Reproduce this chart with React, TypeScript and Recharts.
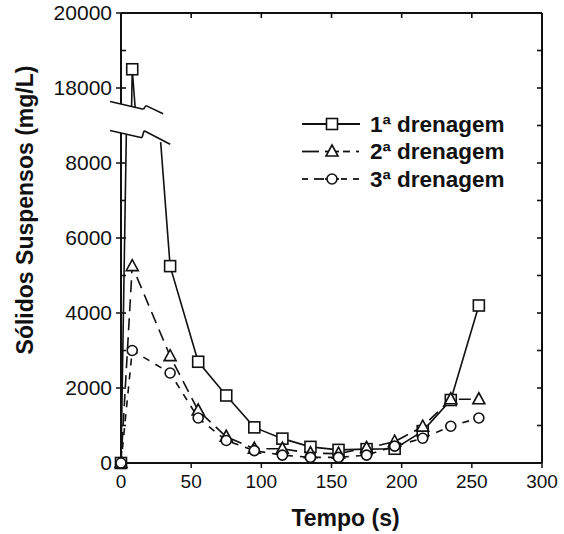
import React from 'react';
import { LineChart, Line, XAxis, YAxis, ReferenceLine, Legend } from 'recharts';

// ---- data ----
const times = [0, 8, 35, 55, 75, 95, 115, 135, 155, 175, 195, 215, 235, 255];
const drenagem1 = [0, 18500, 5250, 2700, 1800, 950, 650, 430, 350, 370, 380, 850, 1680, 4200];
const drenagem2 = [0, 5250, 2850, 1400, 700, 380, 380, 260, 250, 400, 570, 970, 1700, 1700];
const drenagem3 = [0, 3000, 2400, 1200, 600, 330, 210, 150, 150, 210, 450, 660, 980, 1200];
const seriesNames = ['1ª drenagem', '2ª drenagem', '3ª drenagem'];
const xTicks = [0, 50, 100, 150, 200, 250, 300];
const yTickLabels = [0, 2000, 4000, 6000, 8000, 18000, 20000];
const yMinorTicks = [1000, 2000, 3000, 4000, 5000, 6000, 7000, 8000, 18000, 19000];
const rightTicks = [1000, 2000, 3000, 4000, 5000, 6000, 7000, 8000, 9000, 10000, 11000];

// ---- broken axis: values above the break are shifted down ----
const SHIFT = 10000 - 2000; // 18000 is drawn where 10000 would be
const SPLIT = 13000;
const LOW_EDGE = 8800; // top of lower part (at the axis)
const HIGH_EDGE = 9573; // bottom of upper part, shifted units (at the axis)
const SLASH_SLOPE = 8.6; // slant of break marks, y-units per x-unit
const Y_MAX = 20000 - SHIFT;
const X_MAX = 300;

// chart geometry
const W = 564, H = 534;
const M = { top: 13, right: 22, bottom: 0, left: 0 };
const Y_AXIS_W = 121, X_AXIS_H = 71;
const PLOT_W = W - M.left - M.right - Y_AXIS_W;
const PLOT_H = H - M.top - M.bottom - X_AXIS_H;
const TICK_PX = 5;
const TICK_X = (TICK_PX * X_MAX) / PLOT_W; // inward tick length in x units
const TICK_Y = (TICK_PX * Y_MAX) / PLOT_H; // inward tick length in y units

const toT = (v: number) => (v > SPLIT ? v - SHIFT : v);
const fromT = (t: number) => (t > LOW_EDGE ? t + SHIFT : t);
const lowB = (x: number) => LOW_EDGE - SLASH_SLOPE * x;
const upB = (x: number) => HIGH_EDGE - SLASH_SLOPE * x;

type Pt = { x: number; y: number | null; real: boolean };

function buildSeries(xs: number[], vs: number[]): Pt[] {
  const out: Pt[] = [];
  for (let i = 0; i < xs.length; i++) {
    if (i > 0) {
      const x0 = xs[i - 1], v0 = vs[i - 1], x1 = xs[i], v1 = vs[i];
      const up0 = v0 > SPLIT, up1 = v1 > SPLIT;
      if (up0 !== up1) {
        const b = (v1 - v0) / (x1 - x0);
        const a = v0 - b * x0;
        const xl = (LOW_EDGE - a) / (b + SLASH_SLOPE);
        const xu = (HIGH_EDGE + SHIFT - a) / (b + SLASH_SLOPE);
        const pl: Pt = { x: xl, y: a + b * xl, real: false };
        const pu: Pt = { x: xu, y: a + b * xu - SHIFT, real: false };
        const first = up0 ? pu : pl;
        const second = up0 ? pl : pu;
        out.push(first, { x: (xl + xu) / 2, y: null, real: false }, second);
      }
    }
    out.push({ x: xs[i], y: toT(vs[i]), real: true });
  }
  return out;
}

const data1 = buildSeries(times, drenagem1);
const data2 = buildSeries(times, drenagem2);
const data3 = buildSeries(times, drenagem3);

const INK = '#111';
const FONT = '"Liberation Sans", Arial, Helvetica, sans-serif';

const Marker = ({ kind, cx, cy }: { kind: number; cx: number; cy: number }) => {
  if (kind === 0)
    return <rect x={cx - 5.5} y={cy - 5.5} width={11} height={11} fill="#fff" stroke={INK} strokeWidth={1.6} />;
  if (kind === 1)
    return (
      <polygon
        points={`${cx},${cy - 6.5} ${cx - 6},${cy + 4.5} ${cx + 6},${cy + 4.5}`}
        fill="#fff"
        stroke={INK}
        strokeWidth={1.6}
      />
    );
  return <circle cx={cx} cy={cy} r={5} fill="#fff" stroke={INK} strokeWidth={1.6} />;
};

const makeDot = (kind: number) => (props: any) => {
  const { cx, cy, payload, index } = props;
  if (!payload || !payload.real || cx == null || cy == null) return <g key={`e${kind}-${index}`} />;
  return (
    <g key={`d${kind}-${index}`}>
      <Marker kind={kind} cx={cx} cy={cy} />
    </g>
  );
};

const LegendContent = () => {
  const rows = [
    { segs: [[4, 62]], kind: 0 },
    { segs: [[4, 21], [27, 41], [45, 52], [58, 61]], kind: 1 },
    { segs: [[4, 10], [16, 26], [27, 41], [43, 49], [55, 61]], kind: 2 },
  ];
  return (
    <svg width={260} height={90} style={{ display: 'block' }}>
      {rows.map((r, i) => {
        const cy = 16 + i * 27.5;
        return (
          <g key={i}>
            {r.segs.map((s, j) => (
              <line key={j} x1={s[0]} x2={s[1]} y1={cy} y2={cy} stroke={INK} strokeWidth={1.8} />
            ))}
            <Marker kind={r.kind} cx={34} cy={cy} />
            <text x={72} y={cy} dominantBaseline="central" fontFamily={FONT} fontWeight="bold" fontSize={22.5} fill={INK}>
              {seriesNames[i]}
            </text>
          </g>
        );
      })}
    </svg>
  );
};

const YTitle = (props: any) => {
  const vb = props.viewBox || { x: 0, y: 13, width: 121, height: 450 };
  const cx = vb.x + 25;
  const cy = vb.y + vb.height / 2 - 28;
  return (
    <text
      x={cx}
      y={cy}
      transform={`rotate(-90 ${cx} ${cy})`}
      textAnchor="middle"
      dominantBaseline="central"
      fontFamily={FONT}
      fontWeight="bold"
      fontSize={23}
      fill={INK}
    >
      Sólidos Suspensos (mg/L)
    </text>
  );
};

const XTitle = (props: any) => {
  const vb = props.viewBox || { x: 121, y: 463, width: 421, height: 71 };
  return (
    <text
      x={vb.x + vb.width / 2 + 14}
      y={vb.y + 55}
      textAnchor="middle"
      dominantBaseline="central"
      fontFamily={FONT}
      fontWeight="bold"
      fontSize={23}
      fill={INK}
    >
      Tempo (s)
    </text>
  );
};

const slashUpper = [
  { x: -7.8, y: upB(-7.8) },
  { x: 16, y: upB(16) },
  { x: 17.8, y: upB(17.8) + 110 },
  { x: 30, y: upB(30) },
];
const slashLower = [
  { x: -7.8, y: lowB(-7.8) },
  { x: 14.9, y: lowB(14.9) },
  { x: 16.5, y: lowB(16.5) + 200 },
  { x: 35, y: lowB(35) },
];

export default function App() {
  const thin: any[] = [];
  [slashUpper, slashLower].forEach((pl, k) => {
    for (let i = 1; i < pl.length; i++) thin.push({ key: `s${k}-${i}`, seg: [pl[i - 1], pl[i]] });
  });
  // inward ticks on the frame
  xTicks.forEach((x) => thin.push({ key: `tt${x}`, seg: [{ x, y: Y_MAX }, { x, y: Y_MAX - TICK_Y }] }));
  rightTicks.forEach((t) => thin.push({ key: `rt${t}`, seg: [{ x: X_MAX, y: t }, { x: X_MAX - TICK_X, y: t }] }));
  yMinorTicks.forEach((v) =>
    thin.push({ key: `lt${v}`, seg: [{ x: 0, y: toT(v) }, { x: TICK_X, y: toT(v) }] })
  );
  const frame = [
    { key: 'f-top', seg: [{ x: 0, y: Y_MAX }, { x: X_MAX, y: Y_MAX }] },
    { key: 'f-right', seg: [{ x: X_MAX, y: 0 }, { x: X_MAX, y: Y_MAX }] },
    { key: 'f-left-lo', seg: [{ x: 0, y: 0 }, { x: 0, y: lowB(0) }] },
    { key: 'f-left-hi', seg: [{ x: 0, y: upB(0) }, { x: 0, y: Y_MAX }] },
  ];
  return (
    <div style={{ position: 'absolute', left: 0, top: 0, width: W, height: H, background: '#fff' }}>
      <LineChart width={W} height={H} margin={M}>
        <XAxis
          dataKey="x"
          type="number"
          domain={[0, X_MAX]}
          ticks={xTicks}
          height={X_AXIS_H}
          tickSize={5}
          tickMargin={7}
          axisLine={{ stroke: INK, strokeWidth: 2 }}
          tickLine={{ stroke: INK, strokeWidth: 1.5 }}
          tick={{ fill: INK, fontSize: 19, fontFamily: FONT }}
          label={{ content: XTitle }}
        />
        <YAxis
          type="number"
          domain={[0, Y_MAX]}
          ticks={yTickLabels.map(toT)}
          tickFormatter={(t: number) => String(fromT(t))}
          width={Y_AXIS_W}
          tickSize={5}
          tickMargin={4}
          axisLine={false}
          tickLine={{ stroke: INK, strokeWidth: 1.5 }}
          tick={{ fill: INK, fontSize: 21, fontFamily: FONT }}
          label={{ content: YTitle }}
        />
        {frame.map((s) => (
          <ReferenceLine key={s.key} segment={s.seg} stroke={INK} strokeWidth={2} ifOverflow="visible" />
        ))}
        {thin.map((s) => (
          <ReferenceLine key={s.key} segment={s.seg} stroke={INK} strokeWidth={1.6} ifOverflow="visible" />
        ))}
        <Line
          data={data1}
          dataKey="y"
          stroke={INK}
          strokeWidth={1.6}
          dot={makeDot(0)}
          connectNulls={false}
          isAnimationActive={false}
          name={seriesNames[0]}
        />
        <Line
          data={data2}
          dataKey="y"
          stroke={INK}
          strokeWidth={1.6}
          strokeDasharray="12 7"
          dot={makeDot(1)}
          connectNulls={false}
          isAnimationActive={false}
          name={seriesNames[1]}
        />
        <Line
          data={data3}
          dataKey="y"
          stroke={INK}
          strokeWidth={1.6}
          strokeDasharray="7 7"
          dot={makeDot(2)}
          connectNulls={false}
          isAnimationActive={false}
          name={seriesNames[2]}
        />
        <Legend
          layout="vertical"
          align="center"
          verticalAlign="middle"
          content={LegendContent}
          wrapperStyle={{ position: 'absolute', left: 298, top: 108, width: 260, height: 90 }}
        />
      </LineChart>
    </div>
  );
}
